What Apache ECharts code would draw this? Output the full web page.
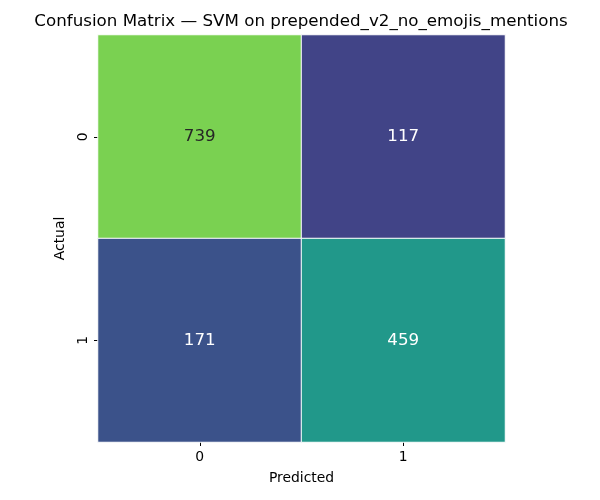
<!DOCTYPE html>
<html>
<head>
<meta charset="utf-8">
<script src="https://cdn.jsdelivr.net/npm/echarts@6/dist/echarts.min.js"></script>
<style>
  html, body { margin: 0; padding: 0; background: #fff; }
  #chart { width: 600px; height: 500px; }
</style>
</head>
<body>
<div id="chart"></div>
<script>
// labels and counts
var predicted = ['0', '1'];
var actual = ['0', '1'];
var counts = [
  [739, 117],
  [171, 459]
];
var chartTitle = 'Confusion Matrix \u2014 SVM on prepended_v2_no_emojis_mentions';

// viridis, the part that is used
var viridis = ['#414487', '#355f8d', '#2a788e', '#21918c', '#22a884', '#44bf70', '#7ad151'];

var cells = [];
for (var r = 0; r < actual.length; r++) {
  for (var c = 0; c < predicted.length; c++) {
    var v = counts[r][c];
    cells.push({
      value: [c, r, v],
      label: { color: v > 600 ? '#262626' : '#ffffff' }
    });
  }
}

var chart = echarts.init(document.getElementById('chart'));

var font = 'DejaVu Sans';

var option = {
  animation: false,
  textStyle: { fontFamily: font },
  title: {
    text: chartTitle,
    left: 296,
    top: 8,
    textAlign: 'center',
    textStyle: { fontFamily: font, fontSize: 16.7, fontWeight: 'normal', color: '#000' }
  },
  grid: { left: 98, top: 35, width: 407, height: 407 },
  xAxis: {
    type: 'category',
    data: predicted,
    name: 'Predicted',
    nameLocation: 'middle',
    nameGap: 29,
    nameTextStyle: { fontFamily: font, fontSize: 13.9, color: '#000' },
    axisLine: { show: false },
    axisTick: { show: true, alignWithLabel: true, length: 4, lineStyle: { color: '#000' } },
    axisLabel: { fontFamily: font, fontSize: 13.9, color: '#000', margin: 8 },
    splitLine: { show: false }
  },
  yAxis: {
    type: 'category',
    data: actual,
    inverse: true,
    name: 'Actual',
    nameLocation: 'middle',
    nameGap: 31,
    nameRotate: 90,
    nameTextStyle: { fontFamily: font, fontSize: 13.9, color: '#000' },
    axisLine: { show: false },
    axisTick: { show: true, alignWithLabel: true, length: 4, lineStyle: { color: '#000' } },
    axisLabel: { fontFamily: font, fontSize: 13.9, color: '#000', rotate: 90, margin: 8 },
    splitLine: { show: false }
  },
  visualMap: {
    show: false,
    min: 117,
    max: 739,
    dimension: 2,
    inRange: { color: viridis }
  },
  series: [{
    type: 'heatmap',
    data: cells,
    itemStyle: { borderColor: '#ffffff', borderWidth: 1 },
    label: { show: true, fontFamily: font, fontSize: 16.7 },
    emphasis: { disabled: true }
  }]
};

chart.setOption(option);
</script>
</body>
</html>
